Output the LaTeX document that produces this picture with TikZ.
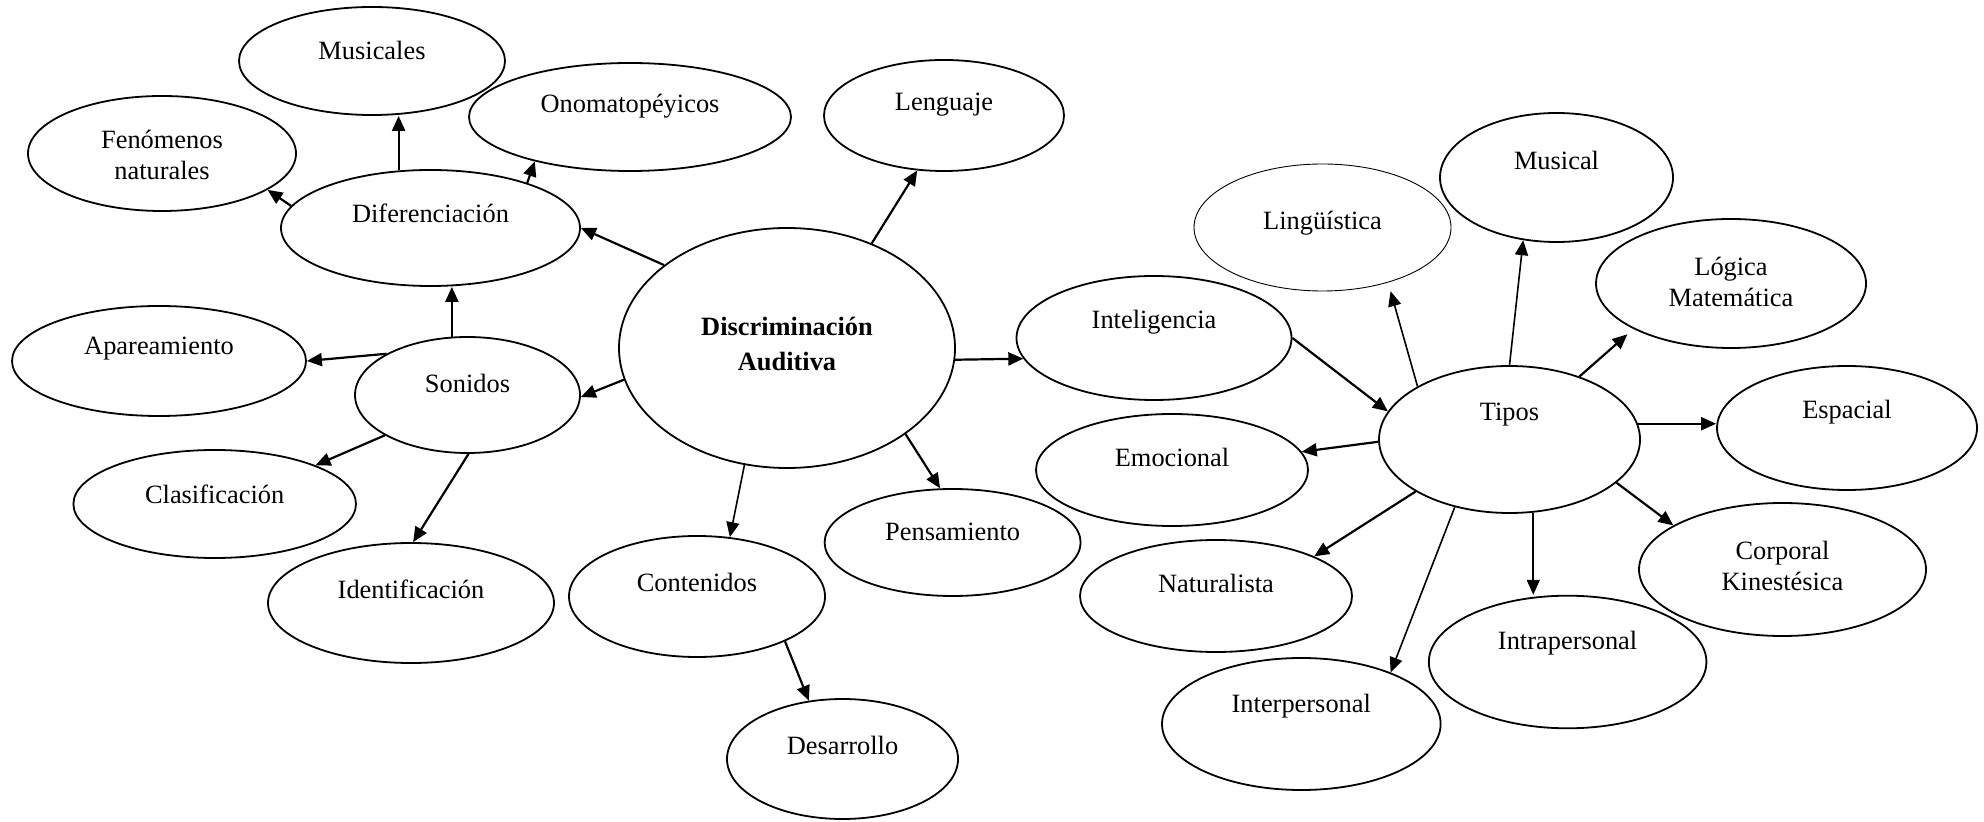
\documentclass[tikz,border=0pt]{standalone}
\usepackage{fontspec}
\setmainfont{Liberation Serif}
\usetikzlibrary{shapes.geometric,arrows.meta,calc}
\begin{document}
\begin{tikzpicture}[x=0.5pt,y=-0.5pt,
  bub/.style 2 args={ellipse, draw, line width=0.9pt, inner sep=0pt, minimum width=#1pt, minimum height=#2pt},
  lbl/.style={font=\fontsize{13.2}{15.5}\selectfont, align=center, inner sep=0pt},
  arr/.style={line width=1.1pt, -{Triangle[length=7.5pt,width=6.5pt]}},
  tarr/.style={line width=0.8pt, -{Triangle[length=7.5pt,width=6.5pt]}}]
\useasboundingbox (0,0) rectangle (1984,822);

\node[bub={133}{54}, label={[lbl,yshift=5.5pt]center:Musicales}] (mus) at (372,61) {};
\node[bub={134}{57.5}, label={[lbl,yshift=-0.5pt]center:{Fenómenos\\naturales}}] (fen) at (162,153.5) {};
\node[bub={161}{54}, label={[lbl,yshift=5.5pt]center:Onomatopéyicos}] (ono) at (630,117) {};
\node[bub={120}{55.5}, label={[lbl,yshift=5.5pt]center:Lenguaje}] (len) at (944,115.5) {};
\node[bub={149.5}{58}, label={[lbl,yshift=7.5pt]center:Diferenciación}] (dif) at (430.5,228) {};
\node[bub={168}{120}, label={[lbl,font=\fontsize{13.2}{17.5}\selectfont\bfseries,yshift=2.25pt]center:{Discriminación\\Auditiva}}] (disc) at (787,348) {};
\node[bub={147}{55}, label={[lbl,yshift=6pt]center:Apareamiento}] (apa) at (159,361) {};
\node[bub={112.5}{58}, label={[lbl,yshift=6pt]center:Sonidos}] (son) at (467.5,395) {};
\node[bub={141.3}{54}, label={[lbl,yshift=5pt]center:Clasificación}] (cla) at (214.7,504) {};
\node[bub={143}{60}, label={[lbl,yshift=7pt]center:Identificación}] (ide) at (411,603) {};
\node[bub={128}{60.5}, label={[lbl,yshift=7pt]center:Contenidos}] (con) at (697,596.5) {};
\node[bub={128}{53.5}, label={[lbl,yshift=5.5pt]center:Pensamiento}] (pen) at (952.6,542.5) {};
\node[bub={115.5}{60}, label={[lbl,yshift=7pt]center:Desarrollo}] (des) at (842.5,759) {};
\node[bub={137.5}{62}, label={[lbl,yshift=8pt]center:Inteligencia}] (int) at (1154,338) {};
\node[bub={128.5}{63.5}, line width=0.45pt, label={[lbl,yshift=2pt]center:Lingüística}] (lin) at (1322.5,227.5) {};
\node[bub={116.5}{64.5}, label={[lbl,yshift=8.5pt]center:Musical}] (msc) at (1556.5,177.5) {};
\node[bub={135}{64.5}, label={[lbl,yshift=1pt]center:{Lógica\\Matemática}}] (log) at (1731,283.5) {};
\node[bub={130.5}{73.5}, label={[lbl,yshift=12.5pt]center:Tipos}] (tip) at (1509.5,439.5) {};
\node[bub={130}{62}, label={[lbl,yshift=8pt]center:Espacial}] (esp) at (1847,428) {};
\node[bub={136}{56}, label={[lbl,yshift=6.5pt]center:Emocional}] (emo) at (1172,470) {};
\node[bub={136}{56}, label={[lbl,yshift=6.5pt]center:Naturalista}] (nat) at (1216,596) {};
\node[bub={143.5}{66.5}, label={[lbl,yshift=1.75pt]center:{Corporal\\Kinestésica}}] (cor) at (1782.5,569.5) {};
\node[bub={138.8}{66.3}, label={[lbl,yshift=9.5pt]center:Intrapersonal}] (itr) at (1567.6,662) {};
\node[bub={139.3}{66}, label={[lbl,yshift=9pt]center:Interpersonal}] (ite) at (1301.3,724) {};

\draw[arr] (disc.146.6) -- (dif.0);
\draw[arr] (dif.119) -- (dif.119 |- mus.south);
\draw[arr] (dif.25) -- (ono.205.6);
\draw[arr] (dif.171.7) -- (fen.-19.3);
\draw[arr] (disc.51.7) -- (len.-116.3);
\draw[arr] (disc.191.6) -- (son.-1);
\draw[arr] (son.105) -- (son.105 |- dif.south);
\draw[arr] (son.153.7) -- (apa.0);
\draw[arr] (son.206.3) -- (cla.21);
\draw[arr] (son.-89) -- (ide.88);
\draw[tarr] (disc.-110.9) -- (con.61.3);
\draw[arr] (disc.-36.6) -- (pen.103.5);
\draw[arr] (con.-27.5) -- (des.120.8);
\draw[arr] (disc.-4) -- (int.189);
\draw[arr] (int.0) -- (tip.167.6);
\draw[tarr, shorten >=4.5pt] (tip.150) -- (lin.-40);
\draw[tarr] (tip.90.4) -- (msc.-118.6);
\draw[arr, shorten >=4pt] (tip.42) -- (log.205.3);
\draw[arr] (tip.7) -- (tip.7 -| esp.west);
\draw[arr] (tip.181.4) -- (emo.8.2);
\draw[arr] (tip.209.6) -- (nat.22.1);
\draw[tarr] (tip.231) -- (ite.30.4);
\draw[tarr] (tip.-72) -- (tip.-72 |- itr.north);
\draw[arr] (tip.-22.2) -- (cor.158.4);
\end{tikzpicture}
\end{document}
